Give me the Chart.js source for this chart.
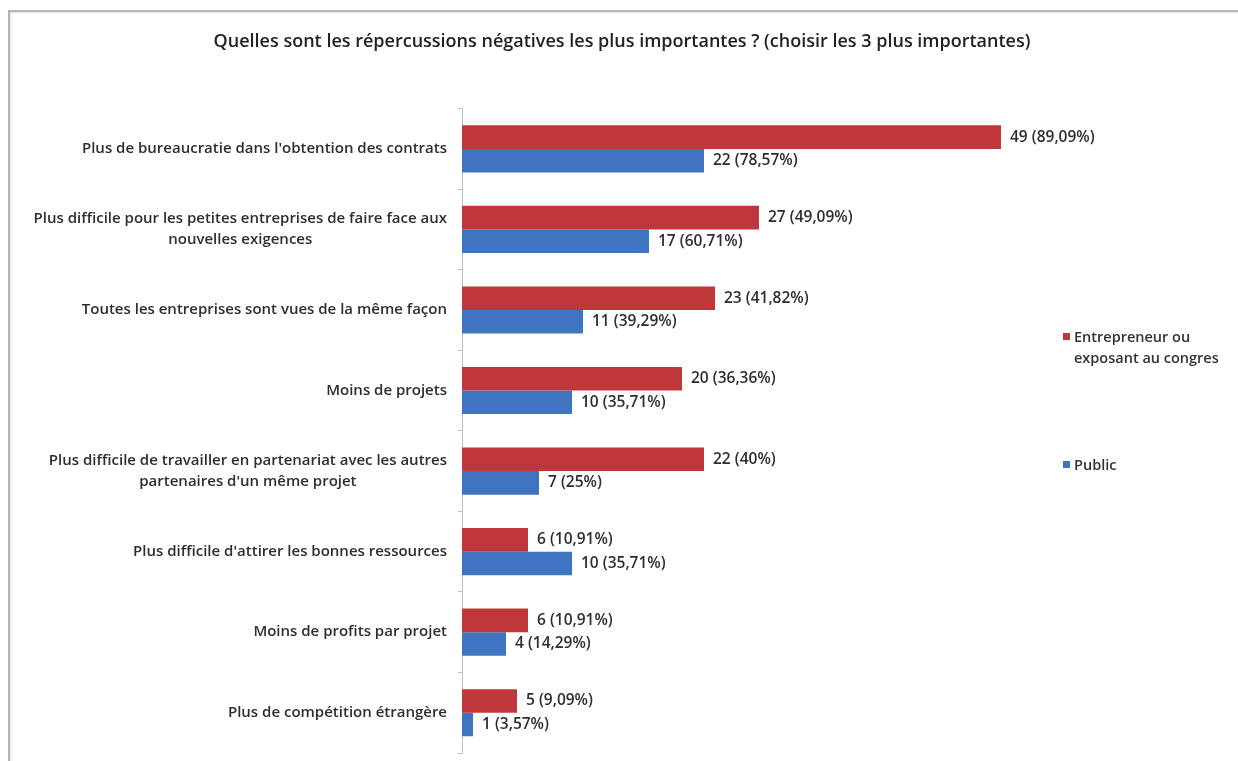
<!DOCTYPE html>
<html>
<head>
<meta charset="utf-8">
<script src="https://cdn.jsdelivr.net/npm/chart.js@4/dist/chart.umd.min.js"></script>
<style>
  html, body { margin: 0; padding: 0; background: #ffffff; }
  #wrap { position: relative; width: 1238px; height: 761px; overflow: hidden; background: #fff; }
  #frame { position: absolute; left: 8px; top: 10px; right: -4px; bottom: -4px;
           border-left: 2px solid #b4b4b4; border-top: 2px solid #b4b4b4;
           box-shadow: inset 1px 1px 2px rgba(0,0,0,0.12); pointer-events: none; }
  #c { position: absolute; left: 0; top: 0; }
  .legend { position: absolute; font-family: "Open Sans", Lato, sans-serif; font-weight: 600;
            font-size: 14.5px; color: #333; line-height: 21px; }
  .legend .sw { position: absolute; left: 0; top: 7px; width: 7px; height: 7px; }
  .legend .tx { margin-left: 11px; }
</style>
</head>
<body>
<div id="wrap">
  <canvas id="c" width="1238" height="761"></canvas>
  <div id="frame"></div>
  <div class="legend" id="lg1" style="left:1063px; top:326px;"><span class="sw" style="background:#c0373b"></span><div class="tx">Entrepreneur ou<br>exposant au congres</div></div>
  <div class="legend" id="lg2" style="left:1063px; top:454px;"><span class="sw" style="background:#3f74c0"></span><div class="tx">Public</div></div>
</div>
<script>
const titleText = "Quelles sont les répercussions négatives les plus importantes ? (choisir les 3 plus importantes)";
const categories = [
  "Plus de bureaucratie dans l'obtention des contrats",
  ["Plus difficile pour les petites entreprises de faire face aux", "nouvelles exigences"],
  "Toutes les entreprises sont vues de la même façon",
  "Moins de projets",
  ["Plus difficile de travailler en partenariat avec les autres", "partenaires d'un même projet"],
  "Plus difficile d'attirer les bonnes ressources",
  "Moins de profits par projet",
  "Plus de compétition étrangère"
];
const seriesNames = ["Entrepreneur ou exposant au congres", "Public"];
const entrepreneurValues = [49, 27, 23, 20, 22, 6, 6, 5];
const publicValues = [22, 17, 11, 10, 7, 10, 4, 1];
const entrepreneurPct = ["89,09%", "49,09%", "41,82%", "36,36%", "40%", "10,91%", "10,91%", "9,09%"];
const publicPct = ["78,57%", "60,71%", "39,29%", "35,71%", "25%", "35,71%", "14,29%", "3,57%"];

const FONT = '"Open Sans", Lato, sans-serif';

const valueLabels = {
  id: 'valueLabels',
  afterDatasetsDraw(chart) {
    const ctx = chart.ctx;
    const pcts = [entrepreneurPct, publicPct];
    ctx.save();
    ctx.font = '600 15.5px ' + FONT;
    ctx.fillStyle = '#2e2e2e';
    ctx.textAlign = 'left';
    ctx.textBaseline = 'middle';
    chart.data.datasets.forEach((ds, di) => {
      const meta = chart.getDatasetMeta(di);
      meta.data.forEach((el, i) => {
        ctx.fillText(ds.data[i] + ' (' + pcts[di][i] + ')', el.x + 9, el.y);
      });
    });
    ctx.restore();
  }
};

const categoryLabels = {
  id: 'categoryLabels',
  afterDraw(chart) {
    const ctx = chart.ctx;
    const y = chart.scales.y;
    const right = chart.chartArea.left - 15;
    const lh = 21;
    ctx.save();
    ctx.font = '600 15px ' + FONT;
    ctx.fillStyle = '#2e2e2e';
    ctx.textBaseline = 'middle';
    categories.forEach((lab, i) => {
      const lines = Array.isArray(lab) ? lab : [lab];
      const widths = lines.map(l => ctx.measureText(l).width);
      const maxW = Math.max(...widths);
      const cx = right - maxW / 2;
      const yc = y.getPixelForValue(i);
      const y0 = yc - (lines.length - 1) * lh / 2;
      ctx.textAlign = 'center';
      lines.forEach((l, k) => ctx.fillText(l, cx, y0 + k * lh));
    });
    ctx.restore();
  }
};

new Chart(document.getElementById('c'), {
  type: 'bar',
  data: {
    labels: categories,
    datasets: [
      { label: seriesNames[0], data: entrepreneurValues, backgroundColor: '#c0373b', borderWidth: 0,
        categoryPercentage: 0.585, barPercentage: 1.0 },
      { label: seriesNames[1], data: publicValues, backgroundColor: '#3f74c0', borderWidth: 0,
        categoryPercentage: 0.585, barPercentage: 1.0 }
    ]
  },
  options: {
    indexAxis: 'y',
    responsive: false,
    animation: false,
    layout: { padding: { left: 12, right: 6, top: 0, bottom: 8 } },
    plugins: {
      legend: { display: false },
      tooltip: { enabled: false },
      title: {
        display: true, text: titleText, color: '#222222',
        font: { family: FONT, size: 18, weight: '600', lineHeight: 1.2 },
        padding: { top: 31, bottom: 56 }
      }
    },
    scales: {
      x: { display: false, min: 0, max: 70 },
      y: {
        grid: { display: true, drawOnChartArea: false, drawTicks: true, tickLength: 4, color: '#bfbfbf' },
        border: { display: true, color: '#bfbfbf', width: 1 },
        ticks: { display: false },
        afterFit(scale) { scale.width = 450; }
      }
    }
  },
  plugins: [valueLabels, categoryLabels]
});
</script>
</body>
</html>
